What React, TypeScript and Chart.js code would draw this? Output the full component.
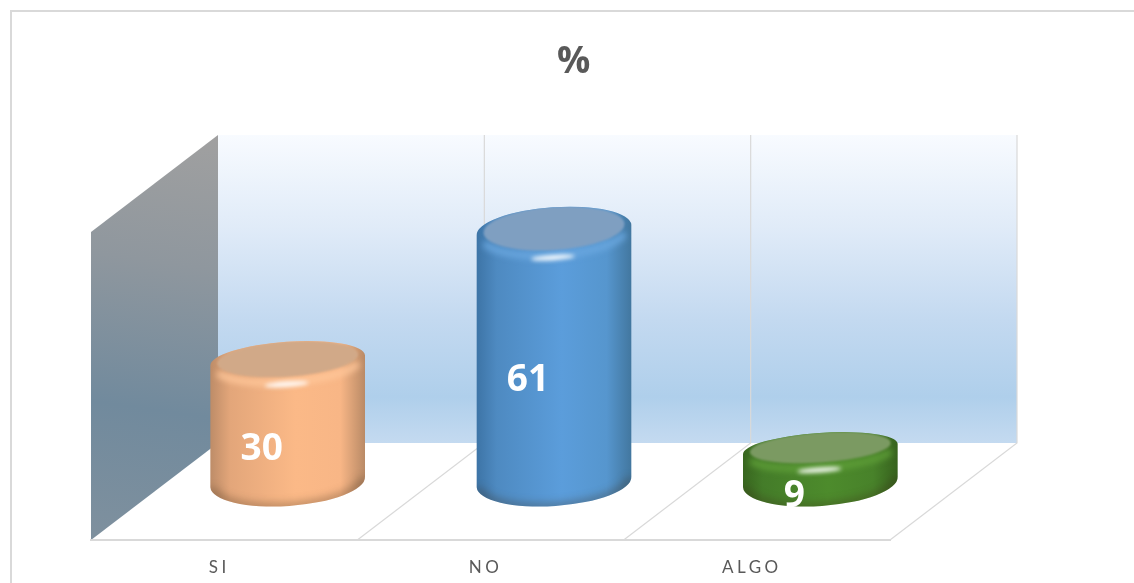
import React, { useEffect, useRef } from "react";
import { Chart, registerables } from "chart.js";

Chart.register(...registerables);

const categories = ["SI", "NO", "ALGO"];
const seriesName = "%";
const values = [30, 61, 9];
const sideColors = [
  ["#bd8c68", "#e3a67a", "#fbb987", "#f8b686", "#b98a66"],
  ["#3d74a6", "#4e8ac1", "#5b9ddb", "#5696ce", "#42779f"],
  ["#38661f", "#447c29", "#4d8b2c", "#48822a", "#37621e"],
];
const faceColors = ["#d1a988", "#7f9fc1", "#7b9a62"];
const shoulderColors = ["#ffc79a", "#6ba8e0", "#5f9f38"];

const DEPTH_X = 127;
const DEPTH_Y = 97;
const BAR_LIFT = 58;
const TILT = -0.068;
const GRID = "#d9d9d9";

const scenePlugin = {
  id: "scene",
  beforeDraw(chart: any) {
    const { ctx, chartArea: a, scales } = chart;
    const x = scales.x;
    ctx.save();
    ctx.fillStyle = "#ffffff";
    ctx.fillRect(0, 0, chart.width, chart.height);
    ctx.strokeStyle = GRID;
    ctx.lineWidth = 2;
    ctx.beginPath();
    ctx.moveTo(11, chart.height);
    ctx.lineTo(11, 11);
    ctx.lineTo(chart.width, 11);
    ctx.stroke();

    const bx0 = a.left + DEPTH_X;
    const bx1 = a.right + DEPTH_X;
    const by1 = a.bottom - DEPTH_Y;
    const back = ctx.createLinearGradient(0, a.top, 0, by1);
    back.addColorStop(0, "#f8fbff");
    back.addColorStop(0.3, "#e0ebf8");
    back.addColorStop(0.6, "#c3d9f0");
    back.addColorStop(0.85, "#afcfeb");
    back.addColorStop(1, "#c4daf0");
    ctx.fillStyle = back;
    ctx.fillRect(bx0, a.top, bx1 - bx0, by1 - a.top);

    const step = (a.right - a.left) / categories.length;
    ctx.strokeStyle = GRID;
    ctx.lineWidth = 1.2;
    for (let i = 1; i <= categories.length; i++) {
      const fx = x.left + step * i;
      ctx.beginPath();
      ctx.moveTo(fx, a.bottom);
      ctx.lineTo(fx + DEPTH_X, by1);
      ctx.lineTo(fx + DEPTH_X, a.top);
      ctx.stroke();
    }

    const side = ctx.createLinearGradient(bx0 - 20, a.top, a.left + 50, a.bottom);
    side.addColorStop(0, "#a0a0a0");
    side.addColorStop(0.32, "#8f979e");
    side.addColorStop(0.68, "#718a9d");
    side.addColorStop(1, "#7e909e");
    ctx.fillStyle = side;
    ctx.beginPath();
    ctx.moveTo(a.left, a.top + DEPTH_Y);
    ctx.lineTo(bx0, a.top);
    ctx.lineTo(bx0, by1);
    ctx.lineTo(a.left, a.bottom);
    ctx.closePath();
    ctx.fill();
    ctx.restore();
    (ctx as any).letterSpacing = "3.5px";
  },
  afterDatasetsDraw(chart: any) {
    const { ctx } = chart;
    (ctx as any).letterSpacing = "0px";
    const meta = chart.getDatasetMeta(0);
    meta.data.forEach((el: any, i: number) => {
      const cx = el.x + DEPTH_X / 2;
      const rx = el.width / 2;
      const baseCy = el.base - BAR_LIFT;
      const h = el.base - el.y;
      const topCy = baseCy - (h + (h - 121.5) * 0.04);
      const ryTop = 16 + (451 - topCy) * 0.03;
      const ryBase = 24;

      ctx.save();
      ctx.beginPath();
      ctx.ellipse(cx, baseCy, rx, ryBase, TILT, 0, Math.PI, false);
      ctx.ellipse(cx, topCy, rx, ryTop, TILT, Math.PI, Math.PI * 2, false);
      ctx.closePath();
      ctx.clip();

      const g = ctx.createLinearGradient(cx - rx, 0, cx + rx, 0);
      const stops = [0, 0.13, 0.55, 0.84, 1];
      sideColors[i].forEach((c, k) => g.addColorStop(stops[k], c));
      ctx.fillStyle = g;
      ctx.fillRect(cx - rx - 2, topCy - ryTop - 12, rx * 2 + 4, baseCy - topCy + ryTop + ryBase + 24);

      ctx.filter = "blur(4px)";
      ctx.strokeStyle = "rgba(60,40,20,0.34)";
      ctx.lineWidth = 8;
      ctx.beginPath();
      ctx.ellipse(cx, baseCy + 1, rx - 2, ryBase, TILT, 0, Math.PI, false);
      ctx.stroke();

      ctx.filter = "blur(3px)";
      ctx.strokeStyle = shoulderColors[i];
      ctx.lineWidth = 6;
      ctx.beginPath();
      ctx.ellipse(cx, topCy + 3, rx - 5, ryTop, TILT, 0.25, Math.PI - 0.25, false);
      ctx.stroke();

      ctx.filter = "blur(1.2px)";
      ctx.fillStyle = faceColors[i];
      ctx.beginPath();
      ctx.ellipse(cx, topCy - 1.5, rx - 7, ryTop - 1, TILT, 0, Math.PI * 2);
      ctx.fill();

      ctx.filter = "blur(2px)";
      ctx.fillStyle = "rgba(255,255,255,0.95)";
      ctx.beginPath();
      ctx.ellipse(cx - 1, topCy + ryTop + 5, 22, 2.6, TILT, 0, Math.PI * 2);
      ctx.fill();
      ctx.restore();

      ctx.save();
      ctx.fillStyle = "#ffffff";
      ctx.font = "bold 37px 'Open Sans'";
      ctx.textAlign = "center";
      ctx.textBaseline = "middle";
      const mid = (topCy + baseCy) / 2;
      ctx.fillText(String(values[i]), cx - 26, mid * 1.06 + 3);
      ctx.restore();
    });
  },
};

export default function App() {
  const ref = useRef<HTMLCanvasElement>(null);
  useEffect(() => {
    document.body.style.margin = "0";
    const chart = new Chart(ref.current as HTMLCanvasElement, {
      type: "bar",
      data: {
        labels: categories,
        datasets: [
          {
            label: seriesName,
            data: values,
            backgroundColor: "transparent",
            borderWidth: 0,
            categoryPercentage: 1,
            barPercentage: 0.582,
          },
        ],
      },
      options: {
        responsive: false,
        animation: false,
        layout: { padding: { left: 17, right: 0, top: 0, bottom: 0 } },
        plugins: {
          legend: { display: false },
          tooltip: { enabled: false },
          title: {
            display: true,
            text: seriesName,
            color: "#595959",
            font: { family: "'Open Sans'", size: 37, weight: "bold" },
            padding: { top: 40, bottom: 50.6 },
          },
        },
        scales: {
          x: {
            grid: { display: false, drawTicks: false },
            border: { display: true, color: GRID, width: 2 },
            ticks: {
              color: "#595959",
              font: { family: "Lato", size: 17 },
              padding: 17,
              labelOffset: -5,
              maxRotation: 0,
              autoSkip: false,
            },
            afterFit(s: any) {
              s.height = 43;
            },
          },
          y: {
            min: 0,
            max: 100,
            grid: { display: false, drawTicks: false },
            border: { display: false },
            ticks: { display: false },
            afterFit(s: any) {
              s.width = 74;
            },
          },
          y2: {
            position: "right",
            grid: { display: false, drawTicks: false },
            border: { display: false },
            ticks: { display: false },
            afterFit(s: any) {
              s.width = 244;
            },
          },
        },
      },
      plugins: [scenePlugin],
    } as any);
    return () => chart.destroy();
  }, []);
  return <canvas ref={ref} width={1134} height={583} style={{ display: "block" }} />;
}
